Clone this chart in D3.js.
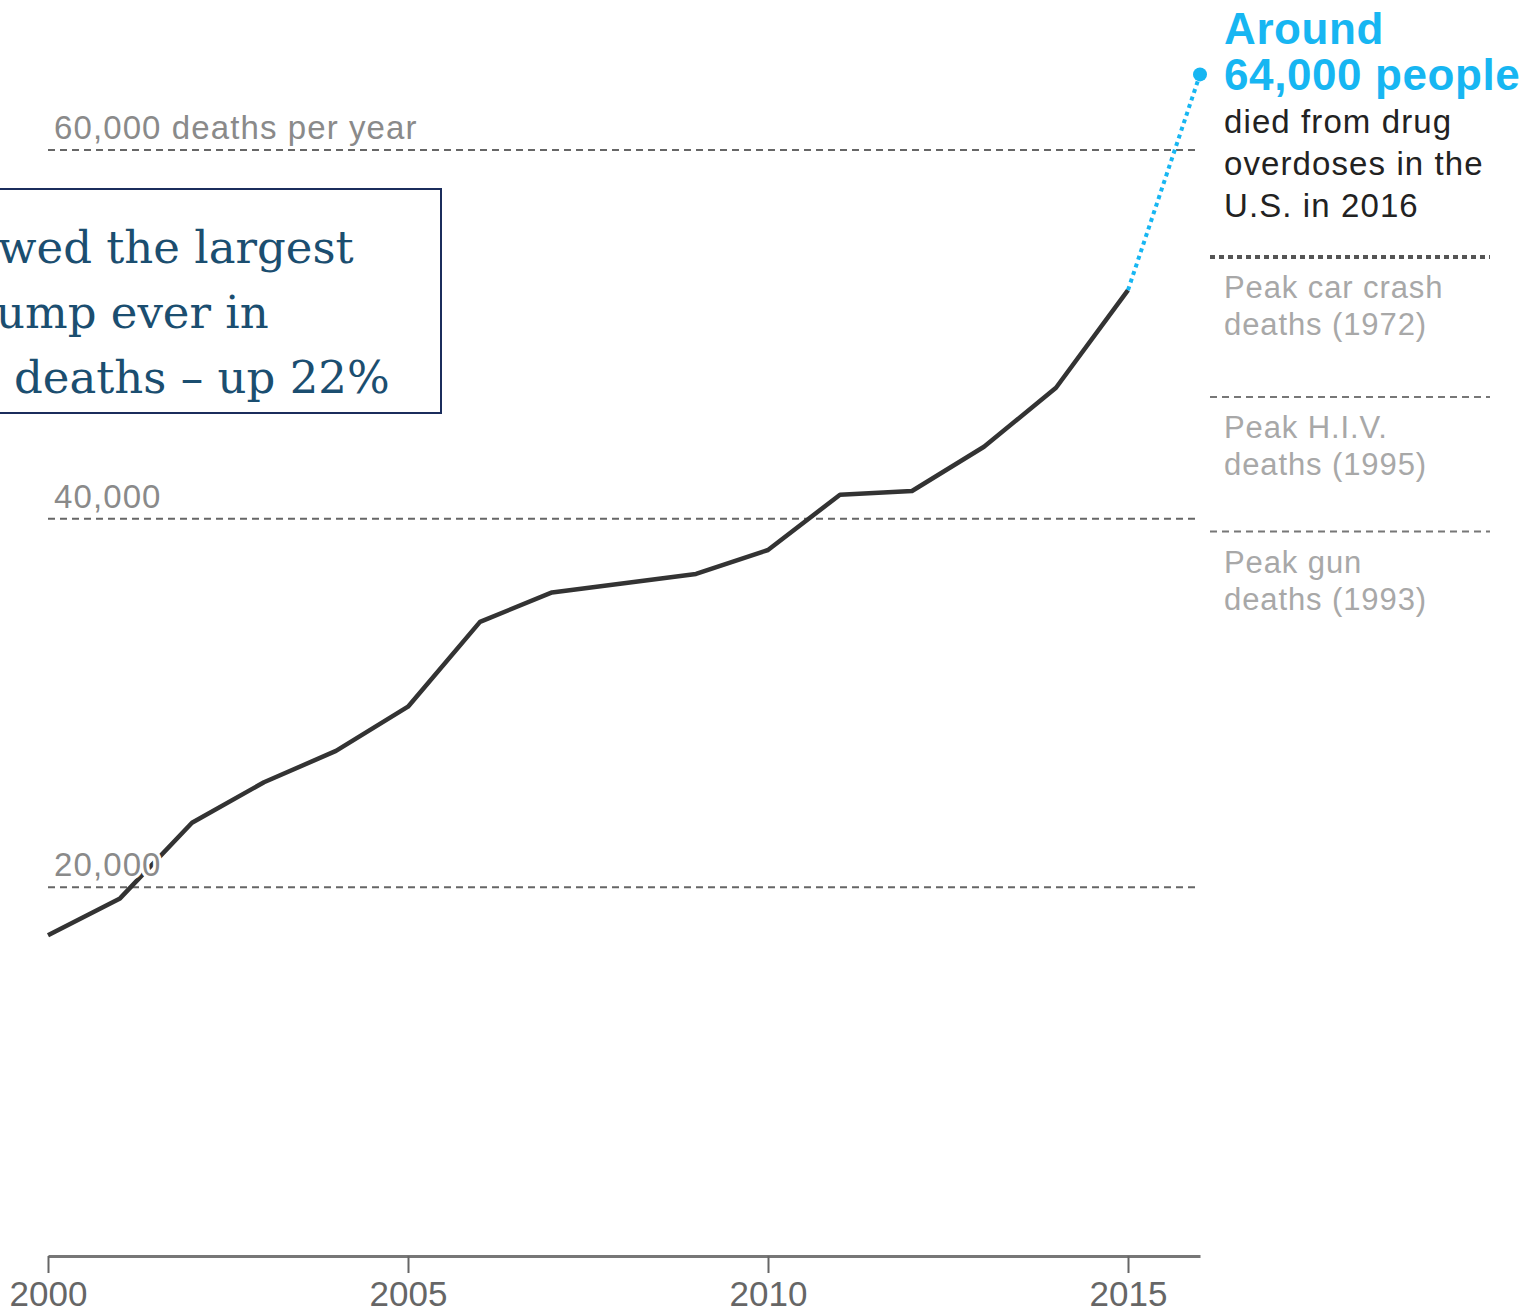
<!DOCTYPE html>
<html>
<head>
<meta charset="utf-8">
<script src="https://cdn.jsdelivr.net/npm/d3@7"></script>
<style>
  body { margin: 0; background: #fff; }
  svg { display: block; }
</style>
</head>
<body>
<div class="chart"></div>
<script>
// data
const years = [2000, 2001, 2002, 2003, 2004, 2005, 2006, 2007, 2008, 2009, 2010, 2011, 2012, 2013, 2014, 2015];
const deaths = [17400, 19400, 23500, 25700, 27400, 29800, 34400, 36000, 36500, 37000, 38300, 41300, 41500, 43900, 47100, 52400];
const estYear = 2016;
const estDeaths = 64100;
const gridValues = [20000, 40000, 60000];
const gridLabels = ['20,000', '40,000', '60,000 deaths per year'];
const xTicks = [2000, 2005, 2010, 2015];
const peakNames = [['Peak car crash', 'deaths (1972)'], ['Peak H.I.V.', 'deaths (1995)'], ['Peak gun', 'deaths (1993)']];
const peakValues = [54200, 46600, 39300];
const boxLines = ['wed the largest', 'ump ever in', 'deaths \u2013 up 22%'];
const noteHead = ['Around', '64,000 people'];
const noteBody = ['died from drug', 'overdoses in the', 'U.S. in 2016'];

const w = 1536;
const h = 1312;
const sans = "'Liberation Sans', Arial, sans-serif";
const blue = '#17b6f2';

const svg = d3.select('.chart').append('svg').attr('width', w).attr('height', h);

const x = d3.scaleLinear().domain([2000, 2016]).range([48, 1200]);
const y = d3.scaleLinear().domain([0, 60000]).range([1256, 150]);

// gridlines
svg.selectAll('.grid')
  .data(gridValues)
  .enter()
  .append('line')
  .attr('class', 'grid')
  .attr('x1', x(2000))
  .attr('x2', x(2016))
  .attr('y1', (d) => y(d))
  .attr('y2', (d) => y(d))
  .attr('stroke', '#666')
  .attr('stroke-width', 2)
  .attr('stroke-dasharray', '7,5');

// peak reference lines on the right
const peaks = svg.append('g');
peaks.selectAll('line')
  .data(peakValues)
  .enter()
  .append('line')
  .attr('x1', 1210)
  .attr('x2', 1490)
  .attr('y1', (d) => y(d))
  .attr('y2', (d) => y(d))
  .attr('stroke', (d, i) => (i === 0 ? '#555' : '#777'))
  .attr('stroke-width', (d, i) => (i === 0 ? 4 : 2))
  .attr('stroke-dasharray', (d, i) => (i === 0 ? '5,4' : '7,5'));

peakNames.forEach((lines, i) => {
  peaks.append('text')
    .attr('x', 1224)
    .attr('y', y(peakValues[i]) + 41)
    .attr('fill', '#a8a8a8')
    .style('font-family', sans)
    .style('font-size', '31px')
    .style('letter-spacing', '0.9px')
    .selectAll('tspan')
    .data(lines)
    .enter()
    .append('tspan')
    .attr('x', 1224)
    .attr('dy', (d, j) => (j === 0 ? 0 : 37))
    .text((d) => d);
});

// main line
const line = d3.line().x((d) => x(d[0])).y((d) => y(d[1]));
svg.append('path')
  .datum(years.map((yr, i) => [yr, deaths[i]]))
  .attr('d', line)
  .attr('fill', 'none')
  .attr('stroke', '#333')
  .attr('stroke-width', 4.5)
  .attr('stroke-linejoin', 'round');

// estimate segment
const last = years.length - 1;
svg.append('path')
  .datum([[years[last], deaths[last]], [estYear, estDeaths]])
  .attr('d', line)
  .attr('fill', 'none')
  .attr('stroke', blue)
  .attr('stroke-width', 4)
  .attr('stroke-dasharray', '4,4');

svg.append('circle')
  .attr('cx', x(estYear))
  .attr('cy', y(estDeaths))
  .attr('r', 7)
  .attr('fill', blue);

// gridline labels with white halo
svg.selectAll('.grid-label')
  .data(gridValues)
  .enter()
  .append('text')
  .attr('class', 'grid-label')
  .attr('x', 54)
  .attr('y', (d) => y(d) - 11)
  .attr('fill', '#8a8a8a')
  .attr('stroke', '#fff')
  .attr('stroke-width', 6)
  .attr('paint-order', 'stroke')
  .style('font-family', sans)
  .style('font-size', '33px')
  .style('letter-spacing', '1.1px')
  .text((d, i) => gridLabels[i]);

// x axis
const xAxis = d3.axisBottom(x)
  .tickValues(xTicks)
  .tickFormat(d3.format('d'))
  .tickSizeInner(17)
  .tickSizeOuter(0)
  .tickPadding(8);

const xAxisG = svg.append('g')
  .attr('transform', `translate(0, ${y(0)})`)
  .call(xAxis);

xAxisG.select('.domain').attr('stroke', '#777').attr('stroke-width', 3);
xAxisG.selectAll('.tick line').attr('stroke', '#666').attr('stroke-width', 2);
xAxisG.selectAll('.tick text')
  .attr('fill', '#666')
  .style('font-family', sans)
  .style('font-size', '35px');

// box annotation
const box = svg.append('g');
box.append('rect')
  .attr('x', -10)
  .attr('y', 189)
  .attr('width', 451)
  .attr('height', 224)
  .attr('fill', '#fff')
  .attr('stroke', '#1b2d5c')
  .attr('stroke-width', 2);

box.selectAll('text')
  .data(boxLines)
  .enter()
  .append('text')
  .attr('x', (d, i) => [-2, -4, 14][i])
  .attr('y', (d, i) => 263 + i * 65)
  .attr('fill', '#1b4e70')
  .style('font-family', "Georgia, 'DejaVu Serif', serif")
  .style('font-size', '45px')
  .text((d) => d);

// 2016 annotation
const note = svg.append('g').style('font-family', sans);
note.selectAll('.head')
  .data(noteHead)
  .enter()
  .append('text')
  .attr('class', 'head')
  .attr('x', 1224)
  .attr('y', (d, i) => 44 + i * 46)
  .attr('fill', blue)
  .style('font-weight', 'bold')
  .style('font-size', '44px')
  .style('letter-spacing', '0.6px')
  .text((d) => d);

note.selectAll('.body')
  .data(noteBody)
  .enter()
  .append('text')
  .attr('class', 'body')
  .attr('x', 1224)
  .attr('y', (d, i) => 133 + i * 42)
  .attr('fill', '#222')
  .style('font-size', '33px')
  .style('letter-spacing', '1.1px')
  .text((d) => d);
</script>
</body>
</html>
